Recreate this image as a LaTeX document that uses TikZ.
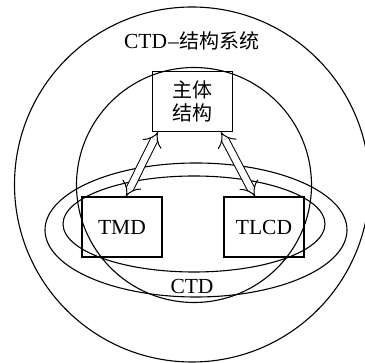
\documentclass[tikz,border=0pt]{standalone}
\usepackage{fontspec}
\setmainfont{Liberation Serif}
\newfontfamily\cjk{Noto Sans CJK SC}
\usetikzlibrary{arrows.meta,calc}
\begin{document}
\begin{tikzpicture}[x=1pt,y=-1pt,
  every node/.style={inner sep=0pt, font=\fontsize{21.5}{23}\selectfont},
  cjktext/.style={font=\fontsize{20}{23}\selectfont\cjk},
  shape line/.style={line width=1.1pt},
  boxnode/.style={draw, line width=1.1pt, minimum width=80pt, minimum height=60pt, align=center},
  duallink/.style={line width=1pt, double, double distance=6.5pt, {Implies[]}-{Implies[]}}
]
\useasboundingbox (0,0) rectangle (365,363);
% circles and ellipses
\draw[shape line] (192,184.5) circle [radius=177.5];
\draw[shape line] (194,185) circle [radius=117.5];
\draw[shape line] (196,230) ellipse [x radius=151, y radius=67];
\draw[shape line] (194,224) ellipse [x radius=131, y radius=48];
% labels
\node (title) at (192,41) {CTD\kern1pt–\kern1pt{\fontsize{20}{23}\selectfont\cjk 结构系统}};
\node (ctd) at (192,286) {CTD};
% boxes
\node[boxnode, cjktext] (main) at (192.5,101.5) {主体\\结构};
\node[boxnode] (tmd) at (122,227) {TMD};
\node[boxnode] (tlcd) at (264,227) {TLCD};
% connector end points
\coordinate (a1) at ($(main.south west)+(6,0)$);
\coordinate (b1) at ($(tmd.north)+(4,0)$);
\coordinate (a2) at ($(main.south east)+(-12,0)$);
\coordinate (b2) at ($(tlcd.north)+(-9,0)$);
\draw[duallink] (b1) -- (a1);
\draw[duallink] (b2) -- (a2);
\end{tikzpicture}
\end{document}
